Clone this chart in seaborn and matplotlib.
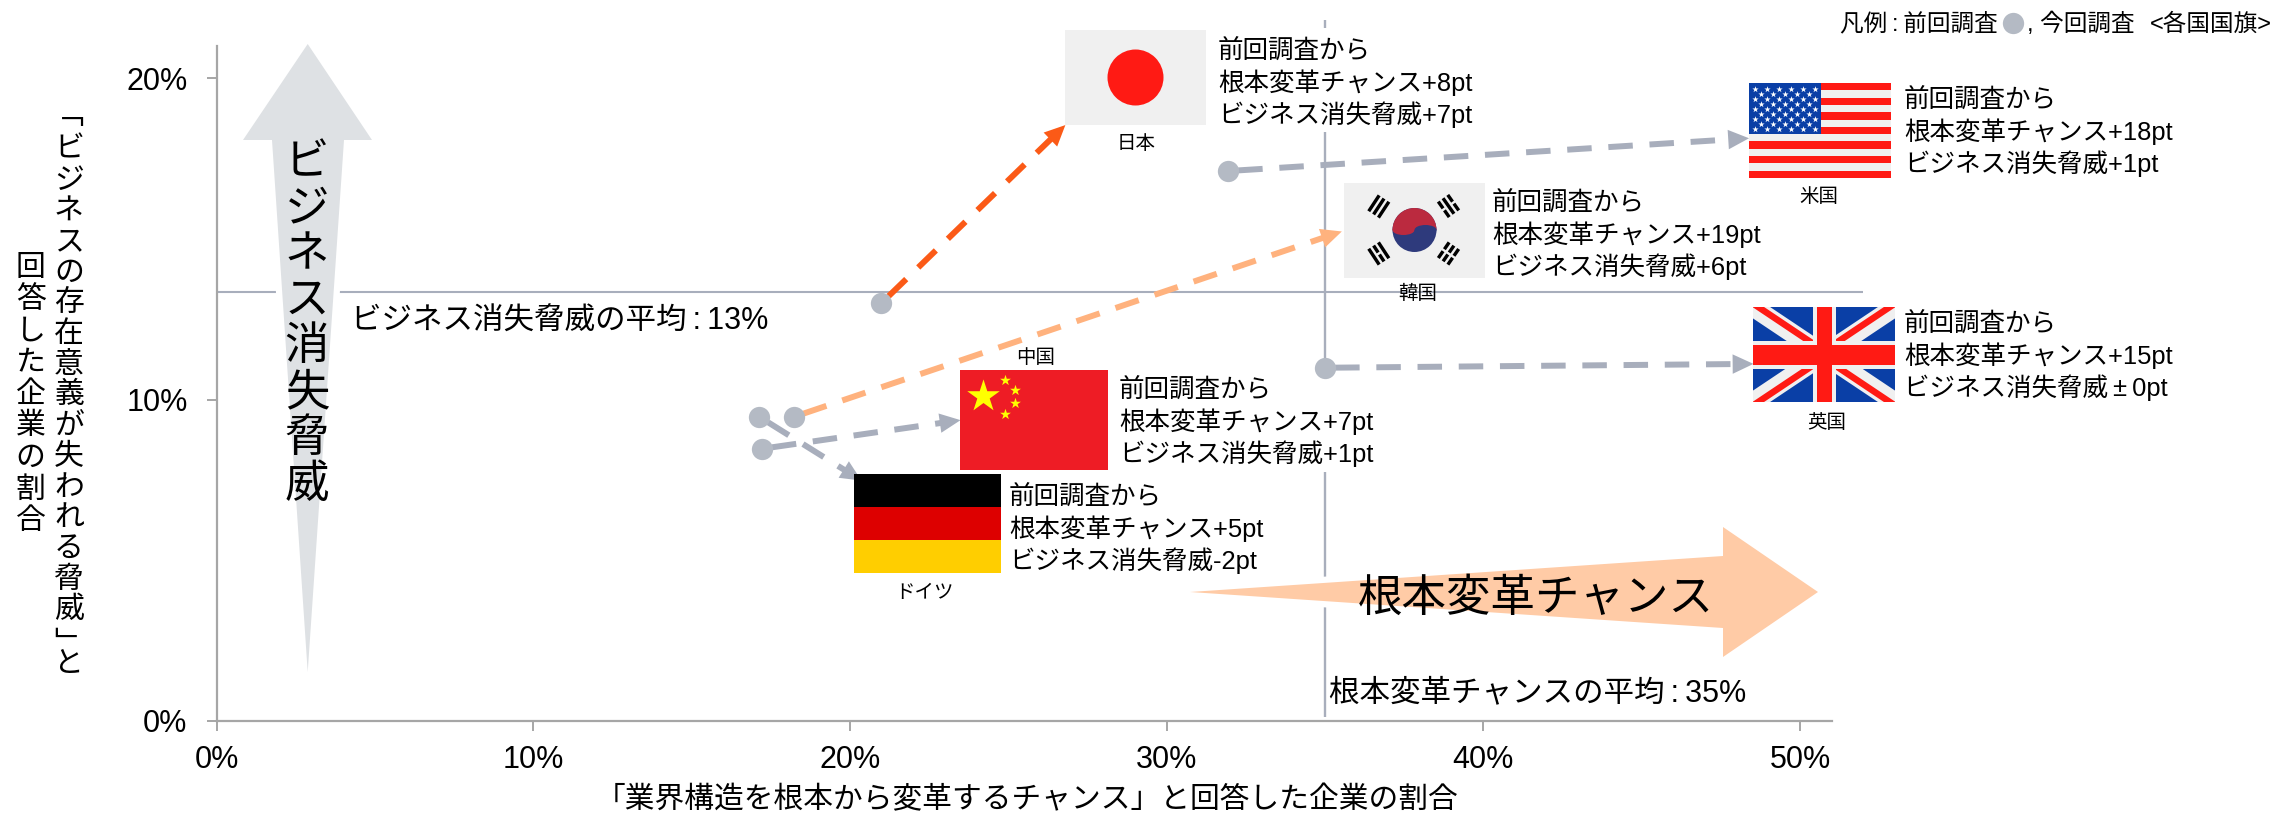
import matplotlib
matplotlib.use("Agg")
import matplotlib.pyplot as plt
from matplotlib.patches import Rectangle, Circle, Ellipse, Wedge, Polygon
from matplotlib.transforms import Affine2D
import numpy as np
import pandas as pd
import seaborn as sns

# Survey results in percent: previous wave, and where each arrow ends at its flag
countries = ["日本", "米国", "韓国", "中国", "ドイツ", "英国"]
prev_chance = [20.99, 31.94, 18.22, 17.22, 17.14, 35.0]
prev_threat = [13.0, 17.11, 9.46, 8.47, 9.46, 10.99]
tip_chance = [26.8, 48.39, 35.53, 23.49, 20.36, 48.53]
tip_threat = [18.54, 18.13, 15.23, 9.36, 7.48, 11.11]
chance_delta = ["+8pt", "+18pt", "+19pt", "+7pt", "+5pt", "+15pt"]
threat_delta = ["+7pt", "+1pt", "+6pt", "+1pt", "-2pt", "\u2009±\u20090pt"]
arrow_colors = ["#FB5A17", "#A8AEBC", "#FFB27E", "#A8AEBC", "#A8AEBC", "#A8AEBC"]
avg_chance = 35
avg_threat = 13.36
x_ticks = [0, 10, 20, 30, 40, 50]
y_ticks = [0, 10, 20]

W, H = 2275, 815
sns.set_theme(style="white", rc={"text.color": "black", "axes.labelcolor": "black"})
plt.rcParams["font.family"] = ["Liberation Sans", "Noto Sans CJK JP"]

fig = plt.figure(figsize=(W / 100, H / 100), dpi=100, facecolor="white")
x0, y0, x1, y1 = 216.7, 721, 1831.7, 46
ax = fig.add_axes([x0 / W, (H - y0) / H, (x1 - x0) / W, (y0 - y1) / H])
ax.set_xlim(0, 51)
ax.set_ylim(0, 21)

# Annotation layout is measured in canvas pixels, origin top-left
px = Affine2D().scale(1, -1).translate(0, H)
MEAN = "#A8AEBC"
FLAG_WHITE = "#F0F0F0"
FLAG_RED = "#FF1A14"
FLAG_BLUE = "#0A3FA6"
TEXT_DROP = 1.5


def label(x, y, s, size, ha="left", va="center", z=8, **kw):
    return ax.text(x, y + TEXT_DROP, s, fontsize=size, ha=ha, va=va, transform=px, clip_on=False, zorder=z, color="black", **kw)


def vertical(x, top, s, step, size):
    for i, ch in enumerate(s):
        label(x, top + step * (i + 0.5), ch, size, ha="center")


def rect(x, y, w, h, color, z=6):
    p = Rectangle((x, y), w, h, transform=px, facecolor=color, edgecolor="none", clip_on=False, zorder=z)
    ax.add_patch(p)
    return p


def poly(pts, color, z):
    ax.add_patch(Polygon(pts, closed=True, transform=px, facecolor=color, edgecolor="none", clip_on=False, zorder=z))


def bar(a, b, color, width, z=6.5, clip=None):
    line, = ax.plot([a[0], b[0]], [a[1], b[1]], color=color, lw=width * 0.72, transform=px,
                    solid_capstyle="butt", clip_on=clip is not None, zorder=z)
    if clip is not None:
        line.set_clip_path(clip)


def stars(cx, cy, radius, color, z=6.6):
    ax.scatter(cx, cy, s=(radius * 2 * 0.72) ** 2 * 1.6, marker="*", color=color, linewidths=0,
               transform=px, clip_on=False, zorder=z)


def flag_japan(x, y, w, h):
    rect(x, y, w, h, FLAG_WHITE)
    ax.add_patch(Circle((x + w / 2, y + h / 2), 28, transform=px, color=FLAG_RED, lw=0, clip_on=False, zorder=6.5))


def flag_usa(x, y, w, h):
    rect(x, y, w, h, FLAG_WHITE)
    sh = h / 13
    for i in range(0, 13, 2):
        rect(x, y + i * sh, w, sh, FLAG_RED, 6.1)
    cw, ch = w * 0.51, sh * 7
    rect(x, y, cw, ch, FLAG_BLUE, 6.2)
    for row in range(9):
        n = 6 if row % 2 == 0 else 5
        off = 6 if row % 2 == 0 else 12
        sx = x + off + 11.9 * np.arange(n)
        stars(sx, np.full(n, y + 5.5 + 5.0 * row), 2.6, "white")


def flag_korea(x, y, w, h):
    rect(x, y, w, h, FLAG_WHITE)
    cx, cy, r = x + w / 2, y + h / 2 - 0.5, 22
    red, blue = "#BB2A3F", "#2E3A7C"
    # y points down on this transform, so negative angles sweep the upper half
    ax.add_patch(Circle((cx, cy), r, transform=px, color=blue, lw=0, clip_on=False, zorder=6.3))
    ax.add_patch(Wedge((cx, cy), r, -180, 0, transform=px, color=red, lw=0, clip_on=False, zorder=6.4))
    ax.add_patch(Ellipse((cx - r / 2, cy), r, 10, transform=px, color=red, lw=0, clip_on=False, zorder=6.45))
    ax.add_patch(Ellipse((cx + r / 2, cy), r, 10, transform=px, color=blue, lw=0, clip_on=False, zorder=6.45))
    # trigrams: solid or split bars, one group per corner
    groups = [((-35.7, -23.5), (1, 1, 1)), ((34, -24), (0, 1, 0)), ((-35.7, 23.5), (1, 0, 1)), ((34, 23.5), (0, 0, 0))]
    for (dx, dy), pattern in groups:
        n = np.array([dx, dy]) / np.hypot(dx, dy)
        t = np.array([-n[1], n[0]])
        for k, solid in zip((-1, 0, 1), pattern):
            c = np.array([cx + dx, cy + dy]) + n * k * 5.8
            if solid:
                bar(c - t * 9.5, c + t * 9.5, "black", 3.4)
            else:
                bar(c - t * 9.5, c - t * 1.2, "black", 3.4)
                bar(c + t * 1.2, c + t * 9.5, "black", 3.4)


def flag_china(x, y, w, h):
    rect(x, y, w, h, "#EE1C25")
    stars([x + 22.6], [y + 26], 13.5, "#FFFF00")
    stars([x + 45, x + 55, x + 55, x + 45], [y + 10, y + 20, y + 33, y + 44], 4.5, "#FFFF00")


def flag_germany(x, y, w, h):
    for i, color in enumerate(["black", "#DD0000", "#FFCE00"]):
        rect(x, y + i * h / 3, w, h / 3, color)


def flag_uk(x, y, w, h):
    base = rect(x, y, w, h, FLAG_BLUE)
    for a, b in [((x, y), (x + w, y + h)), ((x, y + h), (x + w, y))]:
        bar(a, b, FLAG_WHITE, 19, 6.2, base)
    # red diagonals sit offset from the white bands
    nudge = 3.5
    bar((x, y - nudge), (x + w / 2, y + h / 2 - nudge), FLAG_RED, 6.5, 6.3, base)
    bar((x + w / 2, y + h / 2 + nudge), (x + w, y + h + nudge), FLAG_RED, 6.5, 6.3, base)
    bar((x, y + h + nudge), (x + w / 2, y + h / 2 + nudge), FLAG_RED, 6.5, 6.3, base)
    bar((x + w / 2, y + h / 2 - nudge), (x + w, y - nudge), FLAG_RED, 6.5, 6.3, base)
    cx, cy = x + w / 2, y + h / 2
    rect(cx - 11.5, y, 23, h, FLAG_WHITE, 6.4)
    rect(x, cy - 14, w, 28, FLAG_WHITE, 6.4)
    rect(cx - 7.5, y, 15, h, FLAG_RED, 6.5)
    rect(x, cy - 10, w, 20, FLAG_RED, 6.5)


# Average lines
ax.plot([0, 52], [avg_threat, avg_threat], color=MEAN, lw=1.5, clip_on=False, zorder=1, solid_capstyle="butt")
ax.plot([avg_chance, avg_chance], [0.13, 21.8], color=MEAN, lw=1.7, clip_on=False, zorder=1, solid_capstyle="butt")

# Large direction arrows, each with a white halo that interrupts the average lines
up = [(307.7, 44), (372, 140), (344, 140), (307.7, 672), (272, 140), (243, 140)]
right = [(1818, 592), (1723, 657), (1723, 628), (1190, 592), (1723, 556), (1723, 527)]
for pts, color in [(up, "#DEE1E4"), (right, "#FFCBA6")]:
    ax.add_patch(Polygon(pts, closed=True, transform=px, facecolor="white", edgecolor="white", lw=9, clip_on=False, zorder=1.5))
    poly(pts, color, 2)
vertical(307, 139, "ビジネス消失脅威", 46, 32)
label(1536, 598, "根本変革チャンス", 32, ha="center")

# White panels behind the two labels that sit over the vertical average line
rect(1218, 28, 260, 104, "white", 2.5)
rect(1118, 372, 256, 100, "white", 2.5)

# Dashed movement arrows from the previous survey towards each flag
for i in range(len(countries)):
    start = ax.transData.transform((prev_chance[i], prev_threat[i]))
    tip = ax.transData.transform((tip_chance[i], tip_threat[i]))
    unit = (tip - start) / np.hypot(*(tip - start))
    end = ax.transData.inverted().transform(tip - unit * 18)
    ax.plot([prev_chance[i], end[0]], [prev_threat[i], end[1]], color=arrow_colors[i], lw=4.3,
            linestyle=(5.21, (4.1, 2.8)), dash_capstyle="butt", zorder=3, clip_on=False)
    ax.annotate("", xy=(tip_chance[i], tip_threat[i]), xytext=(prev_chance[i], prev_threat[i]), zorder=3,
                annotation_clip=False,
                arrowprops=dict(arrowstyle="-|>,head_length=15,head_width=7", mutation_scale=1, lw=0,
                                color=arrow_colors[i], shrinkA=0, shrinkB=0))

points = pd.DataFrame({"chance": prev_chance, "threat": prev_threat})
sns.scatterplot(data=points, x="chance", y="threat", ax=ax, s=235, color="#B4BAC4", linewidth=0, zorder=4, clip_on=False)

# Flags, captions and the text beside each one
flag_boxes = {
    "日本": (flag_japan, 1065, 30, 141, 95),
    "米国": (flag_usa, 1749, 83, 142, 95),
    "韓国": (flag_korea, 1344, 183, 141, 95),
    "中国": (flag_china, 960, 370, 148, 100),
    "ドイツ": (flag_germany, 854, 474, 147, 99),
    "英国": (flag_uk, 1753, 307, 142, 95),
}
caption_xy = [(1136, 143), (1819, 196), (1418, 292), (1036, 357), (925, 592), (1827, 422)]
text_xy = [(1218, 49), (1904, 98), (1492, 201), (1119, 388), (1009, 495), (1904, 322)]
for i, name in enumerate(countries):
    draw, fx, fy, fw, fh = flag_boxes[name]
    draw(fx, fy, fw, fh)
    label(caption_xy[i][0], caption_xy[i][1], name, 14, ha="center")
    tx, ty = text_xy[i]
    for k, line in enumerate(["前回調査から", "根本変革チャンス" + chance_delta[i], "ビジネス消失脅威" + threat_delta[i]]):
        label(tx, ty + k * 32, line, 18.4)

# Average captions
label(351, 320, "ビジネス消失脅威の平均\u2009:\u200913%", 22)
label(1329, 692, "根本変革チャンスの平均\u2009:\u200935%", 22)

# Key in the top right corner
label(1840, 23, "凡例\u2009:\u2009前回調査", 17)
ax.scatter([2013], [22.7], s=235, color="#B4BAC4", linewidths=0, transform=px, clip_on=False, zorder=8)
label(2027, 23, ", 今回調査", 17)
label(2272, 23, "<各国国旗>", 17, ha="right")

# Axis labels, the y one stacked in two vertical columns
ax.set_xlabel("「業界構造を根本から変革するチャンス」と回答した企業の割合", fontsize=21.4, va="center", color="black")
ax.xaxis.set_label_coords((1027 - x0) / (x1 - x0), -(800 - y0) / (y0 - y1))
ax.set_ylabel("")
label(69, 114, "\ufe41", 21.5, ha="center")
vertical(69, 133, "ビジネスの存在意義が失われる脅威", 30.7, 21.5)
label(69, 653, "\ufe42\nと", 21.5, ha="center", linespacing=0.62, multialignment="center")
vertical(30.7, 251, "回答した企業の割合", 31.6, 21.5)

# Axes styling
ax.set_xticks(x_ticks, [f"{v}%" for v in x_ticks])
ax.set_yticks(y_ticks, [f"{v}%" for v in y_ticks])
ax.tick_params(axis="both", length=7, width=1.4, color="#A6A6A6", labelsize=22, labelcolor="black", bottom=True, left=True)
ax.tick_params(axis="x", pad=10)
ax.tick_params(axis="y", pad=14)
sns.despine(ax=ax)
for side in ("left", "bottom"):
    ax.spines[side].set_color("#A6A6A6")
    ax.spines[side].set_linewidth(1.6)
ax.set_xlim(0, 51)
ax.set_ylim(0, 21)

fig.savefig("out.png", dpi=100, facecolor="white")
